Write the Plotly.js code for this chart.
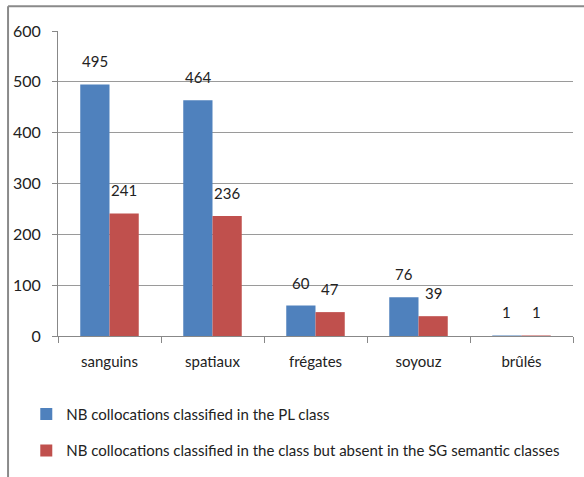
<!DOCTYPE html>
<html><head><meta charset="utf-8">
<script src="https://cdn.plot.ly/plotly-3.0.1.min.js"></script>
<style>html,body{margin:0;padding:0;background:#fff;}</style>
</head><body>
<div id="chart" style="width:584px;height:477px;"></div>
<script>
const categories = ["sanguins", "spatiaux", "frégates", "soyouz", "brûlés"];
const seriesPL = [495, 464, 60, 76, 1];
const seriesAbsent = [241, 236, 47, 39, 1];
const seriesNames = [
  "NB collocations classified in the PL class",
  "NB collocations classified in the class but absent in the SG semantic classes"
];
const yTicks = [0, 100, 200, 300, 400, 500, 600];

const FONT = "Lato, 'Liberation Sans', Arial, sans-serif";
const colors = ["#4F81BD", "#C0504D"];

const traces = [seriesPL, seriesAbsent].map((vals, i) => ({
  type: "bar",
  x: categories,
  y: vals,
  name: seriesNames[i],
  legendgroup: "g" + i,
  marker: {color: colors[i]},
  hoverinfo: "x+y"
}));

const labelShift = [-14.6, 14.6];
const annotations = [];
[seriesPL, seriesAbsent].forEach((vals, i) => {
  vals.forEach((v, j) => {
    annotations.push({
      x: categories[j], y: v, xref: "x", yref: "y",
      text: String(v), showarrow: false,
      xanchor: "center", yanchor: "bottom",
      xshift: labelShift[i], yshift: 12,
      font: {family: FONT, size: 15, color: "#222"}
    });
  });
});

const layout = {
  width: 584, height: 477,
  margin: {l: 58, r: 11, t: 31, b: 141, autoexpand: false},
  paper_bgcolor: "#fff", plot_bgcolor: "#fff",
  font: {family: FONT, size: 15, color: "#222"},
  barmode: "group",
  bargap: 0.432, bargroupgap: 0,
  xaxis: {
    type: "category",
    showline: true, linecolor: "#888", linewidth: 1,
    ticks: "outside", ticklen: 6, tickcolor: "#888", tickson: "boundaries",
    ticklabelstandoff: 12,
    showgrid: false, zeroline: false,
    automargin: false,
    tickfont: {family: FONT, size: 15, color: "#222"}
  },
  yaxis: {
    range: [0, 600], tickvals: yTicks, ticktext: yTicks.map(String),
    showline: true, linecolor: "#888", linewidth: 1,
    ticks: "outside", ticklen: 5, tickcolor: "#888",
    ticklabelstandoff: 8,
    showgrid: true, gridcolor: "#9a9a9a", gridwidth: 1,
    zeroline: false,
    automargin: false,
    tickfont: {family: FONT, size: 16, color: "#222"}
  },
  showlegend: true,
  legend: {
    xref: "container", yref: "container",
    x: 0.045, xanchor: "left",
    y: 0.166, yanchor: "top",
    orientation: "v",
    traceorder: "grouped",
    tracegroupgap: 14,
    font: {family: FONT, size: 15, color: "#222"},
    bgcolor: "rgba(0,0,0,0)"
  },
  annotations: annotations,
  shapes: [
    {type: "line", xref: "paper", yref: "paper", x0: -0.097, x1: 1.1, y0: 1.081, y1: 1.081,
     line: {color: "#8a8a8a", width: 2}},
    {type: "line", xref: "paper", yref: "paper", x0: -0.097, x1: -0.097, y0: 1.081, y1: -0.5,
     line: {color: "#8a8a8a", width: 2}}
  ]
};

Plotly.newPlot("chart", traces, layout, {displayModeBar: false, staticPlot: true});
</script>
</body></html>
